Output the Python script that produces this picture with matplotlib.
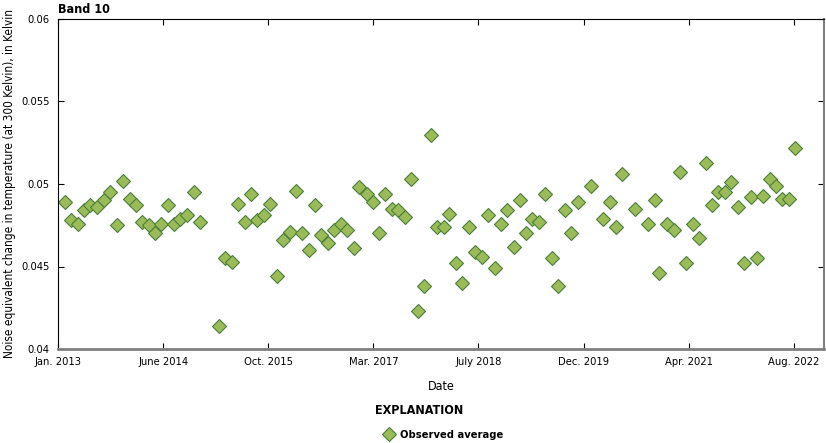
import matplotlib.pyplot as plt
import numpy as np

plt.rcParams['font.family'] = ['DejaVu Sans']
plt.rcParams['font.stretch'] = 'condensed'

# days since 1 Jan 2013
days = [33, 62, 94, 125, 154, 187, 217, 249, 279, 309, 341, 371, 398, 431, 460,
        490, 522, 552, 582, 615, 645, 676, 766, 794, 826, 858, 888, 920, 948, 979,
        1010, 1040, 1072, 1102, 1132, 1162, 1193, 1223, 1253, 1284, 1314, 1345,
        1376, 1407, 1432, 1468, 1497, 1527, 1557, 1588, 1619, 1651, 1681, 1711,
        1743, 1773, 1803, 1835, 1862, 1893, 1923, 1954, 1984, 2016, 2046, 2078,
        2108, 2136, 2169, 2199, 2228, 2256, 2288, 2318, 2349, 2380, 2412, 2442,
        2474, 2536, 2594, 2626, 2656, 2685, 2747, 2808, 2839, 2859, 2899, 2930,
        2959, 2989, 3019, 3051, 3081, 3113, 3141, 3173, 3203, 3234, 3265, 3295,
        3325, 3355, 3386, 3417, 3446, 3477, 3507]
nedt = [0.0489, 0.0478, 0.0476, 0.0484, 0.0487, 0.0486, 0.0490, 0.0495, 0.0475,
        0.0502, 0.0491, 0.0487, 0.0477, 0.0475, 0.0470, 0.0476, 0.0487, 0.0476,
        0.0479, 0.0481, 0.0495, 0.0477, 0.0414, 0.0455, 0.0453, 0.0488, 0.0477,
        0.0494, 0.0478, 0.0481, 0.0488, 0.0444, 0.0466, 0.0471, 0.0496, 0.0470,
        0.0460, 0.0487, 0.0469, 0.0464, 0.0472, 0.0476, 0.0472, 0.0461, 0.0498,
        0.0494, 0.0489, 0.0470, 0.0494, 0.0485, 0.0484, 0.0480, 0.0503, 0.0423,
        0.0438, 0.0530, 0.0474, 0.0474, 0.0482, 0.0452, 0.0440, 0.0474, 0.0459,
        0.0456, 0.0481, 0.0449, 0.0476, 0.0484, 0.0462, 0.0490, 0.0470, 0.0479,
        0.0477, 0.0494, 0.0455, 0.0438, 0.0484, 0.0470, 0.0489, 0.0499, 0.0479,
        0.0489, 0.0474, 0.0506, 0.0485, 0.0476, 0.0490, 0.0446, 0.0476, 0.0472,
        0.0507, 0.0452, 0.0476, 0.0467, 0.0513, 0.0487, 0.0495, 0.0495, 0.0501,
        0.0486, 0.0452, 0.0492, 0.0455, 0.0493, 0.0503, 0.0499, 0.0491, 0.0491,
        0.0522]
tick_labels = ['Jan. 2013', 'June 2014', 'Oct. 2015', 'Mar. 2017', 'July 2018',
               'Dec. 2019', 'Apr. 2021', 'Aug. 2022']
y_ticks = [0.04, 0.045, 0.05, 0.055, 0.06]
y_labels = ['0.04', '0.045', '0.05', '0.055', '0.06']

start = np.datetime64('2013-01-01')
dates = start + np.array(days).astype('timedelta64[D]')
tick_dates = start + (np.arange(8) * 500).astype('timedelta64[D]')

fig = plt.figure(figsize=(8.26, 4.43), dpi=100)
ax = fig.add_axes([58 / 826, 1 - 349 / 443, 766 / 826, 330 / 443])

fill = '#9bbb59'
edge = '#4a7f3a'
ax.plot(dates, nedt, 'D', ms=7, mfc=fill, mec=edge, mew=0.8, ls='none')

ax.set_xlim(start, start + np.timedelta64(3644, 'D'))
ax.set_ylim(0.04, 0.06)
ax.set_xticks(tick_dates)
ax.set_xticklabels(tick_labels)
ax.set_yticks(y_ticks)
ax.set_yticklabels(y_labels)
ax.tick_params(direction='in', length=4, width=0.8, labelsize=8,
               top=True, right=True, pad=6)

for s in ['left', 'top']:
    ax.spines[s].set_color('black')
    ax.spines[s].set_linewidth(0.8)
ax.spines['bottom'].set_color('#808080')
ax.spines['bottom'].set_linewidth(2)
ax.spines['right'].set_color('#808080')
ax.spines['right'].set_linewidth(1.5)

ax.set_xlabel('Date', fontsize=9, labelpad=9)
ax.set_ylabel('Noise equivalent change in temperature (at 300 Kelvin), in Kelvin',
              fontsize=8.5, labelpad=4)
ax.set_title('Band 10', loc='left', fontsize=9, fontweight='bold', pad=4)

fig.text(0.508, 1 - 411 / 443, 'EXPLANATION', ha='center', va='center',
         fontsize=9, fontweight='bold')
fig.legend(handles=[plt.Line2D([], [], marker='D', ms=7, mfc=fill, mec=edge,
                               mew=0.8, ls='none', label='Observed average')],
           loc='center', bbox_to_anchor=(0.537, 1 - 435 / 443), frameon=False,
           prop={'size': 8, 'weight': 'bold'}, handletextpad=0.5,
           handlelength=1.0)

fig.savefig('out.png', dpi=100)
